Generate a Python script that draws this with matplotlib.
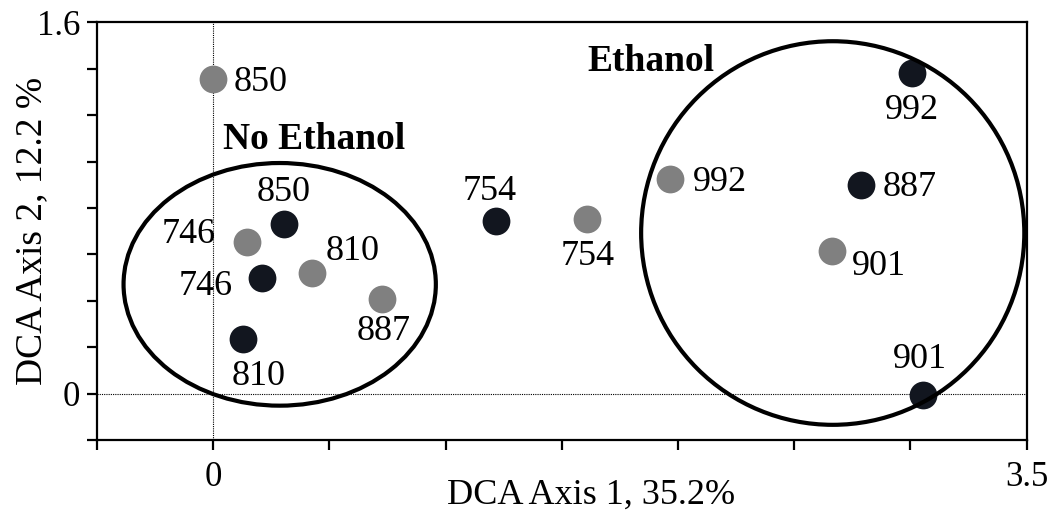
"""DCA ordination of samples with and without ethanol."""

import matplotlib.pyplot as plt
from matplotlib.patches import Ellipse

OUTPUT_PLOT = "out.png"

# gray points
GRAY_LABELS = ["850", "746", "810", "887", "754", "992", "901"]
GRAY_X = [0.0, 0.146, 0.425, 0.726, 1.610, 1.967, 2.662]
GRAY_Y = [1.355, 0.654, 0.520, 0.409, 0.753, 0.925, 0.615]

# black points
BLACK_LABELS = ["850", "746", "810", "754", "887", "992", "901"]
BLACK_X = [0.305, 0.210, 0.129, 1.215, 2.787, 3.006, 3.053]
BLACK_Y = [0.731, 0.499, 0.237, 0.744, 0.899, 1.381, -0.004]

# label offsets in pixels (dx, dy, ha)
GRAY_OFFSETS = [(20, -3, "left"), (-31, 7, "right"), (14, 21, "left"),
                (2, -33, "center"), (0, -38, "center"), (23, -4, "left"),
                (20, -16, "left")]
BLACK_OFFSETS = [(0, 31, "center"), (-29, -9, "right"), (15, -38, "center"),
                 (-6, 29, "center"), (22, -3, "left"), (0, -37, "center"),
                 (-3, 35, "center")]

GRAY = "#808080"
BLACK = "#12161f"
FONT = "Liberation Serif"


def plot_dca() -> None:
    plt.rcParams["font.family"] = FONT
    fig = plt.figure(figsize=(10.55, 5.16), dpi=100)
    ax = fig.add_axes([0.092, 0.147, 0.881, 0.810])

    ax.set_xlim(-0.5, 3.5)
    ax.set_ylim(-0.2, 1.6)

    ax.axvline(0, color="black", lw=0.8, ls=(0, (1, 1)), zorder=1)
    ax.axhline(0, color="black", lw=0.8, ls=(0, (1, 1)), zorder=1)

    ax.add_patch(Ellipse((0.286, 0.471), 1.344, 1.045, fill=False,
                         lw=3, ec="black", zorder=4))
    ax.add_patch(Ellipse((2.666, 0.692), 1.649, 1.652, fill=False,
                         lw=3, ec="black", zorder=4))

    ax.scatter(GRAY_X, GRAY_Y, s=400, color=GRAY, lw=0, zorder=3)
    ax.scatter(BLACK_X, BLACK_Y, s=400, color=BLACK, lw=0, zorder=3)

    for xs, ys, labels, offsets in [(GRAY_X, GRAY_Y, GRAY_LABELS, GRAY_OFFSETS),
                                    (BLACK_X, BLACK_Y, BLACK_LABELS, BLACK_OFFSETS)]:
        for x, y, lab, (dx, dy, ha) in zip(xs, ys, labels, offsets):
            ax.annotate(lab, (x, y), xytext=(dx, dy), textcoords="offset pixels",
                        ha=ha, va="center", fontsize=26)

    ax.text(0.042, 1.095, "No Ethanol", fontsize=27, fontweight="bold",
            va="center", ha="left")
    ax.text(1.61, 1.43, "Ethanol", fontsize=27, fontweight="bold",
            va="center", ha="left")

    ax.set_xticks([-0.5, 0, 0.5, 1, 1.5, 2, 2.5, 3, 3.5])
    ax.set_xticklabels(["", "0", "", "", "", "", "", "", "3.5"])
    ax.set_yticks([-0.2, 0, 0.2, 0.4, 0.6, 0.8, 1.0, 1.2, 1.4, 1.6])
    ax.set_yticklabels(["", "0", "", "", "", "", "", "", "", "1.6"])
    ax.tick_params(direction="out", length=7, width=1.6, labelsize=25, pad=8)
    ax.tick_params(axis="y", pad=5)
    for spine in ax.spines.values():
        spine.set_linewidth(1.6)

    fig.text(0.560, 0.04, "DCA Axis 1, 35.2%", fontsize=26, ha="center",
             va="center")
    fig.text(0.030, 0.552, "DCA Axis 2, 12.2 %", fontsize=27, ha="center",
             va="center", rotation=90)

    fig.savefig(OUTPUT_PLOT, dpi=100)
    plt.close(fig)


def main() -> None:
    plot_dca()


if __name__ == "__main__":
    main()
